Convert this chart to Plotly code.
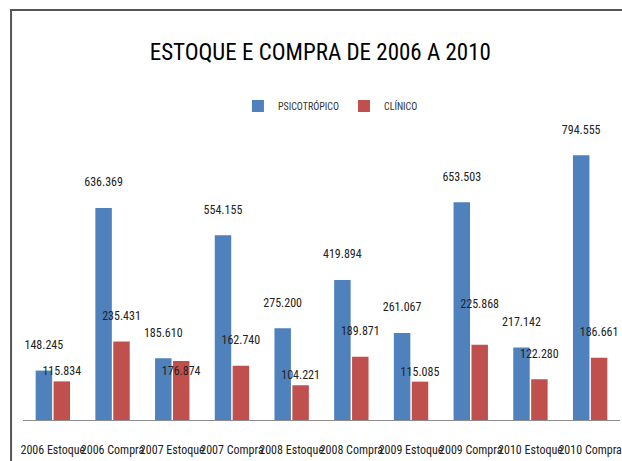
import plotly.graph_objects as go

categories = ["2006 Estoque", "2006 Compra", "2007 Estoque", "2007 Compra",
              "2008 Estoque", "2008 Compra", "2009 Estoque", "2009 Compra",
              "2010 Estoque", "2010 Compra"]
psicotropico = [148.245, 636.369, 185.610, 554.155, 275.200,
                419.894, 261.067, 653.503, 217.142, 794.555]
clinico = [115.834, 235.431, 176.874, 162.740, 104.221,
           189.871, 115.085, 225.868, 122.280, 186.661]

NARROW = "Liberation Sans Narrow, Arial Narrow, Roboto Condensed, Liberation Sans, sans-serif"

# label placement tweaks (blank lines under the label lift it above the bar)
psi_lift = [1] * 10
cli_lift = [0, 1, 0, 1, 0, 1, 0, 2, 1, 1]
cli_pos = ["outside"] * 10
cli_pos[2] = "inside"


def labels(vals, lifts):
    return [f"{v:.3f}" + "<br>\u00a0" * n for v, n in zip(vals, lifts)]


fig = go.Figure()
fig.add_trace(go.Bar(
    x=categories, y=psicotropico, name="PSICOTRÓPICO",
    marker=dict(color="#4F81BD", line=dict(width=0)),
    text=labels(psicotropico, psi_lift), textposition="outside", cliponaxis=False,
    constraintext="none", textangle=0,
    textfont=dict(family=NARROW, size=12, color="#222222"),
))
fig.add_trace(go.Bar(
    x=categories, y=clinico, name="CLÍNICO",
    marker=dict(color="#C0504D", line=dict(width=0)),
    text=labels(clinico, cli_lift), textposition=cli_pos, cliponaxis=False,
    constraintext="none", textangle=0, insidetextanchor="end",
    textfont=dict(family=NARROW, size=12, color="#222222"),
    insidetextfont=dict(family=NARROW, size=12, color="#222222"),
    outsidetextfont=dict(family=NARROW, size=12, color="#222222"),
))

fig.update_layout(
    width=622, height=461,
    margin=dict(l=23, r=0, t=120, b=41),
    paper_bgcolor="white", plot_bgcolor="white",
    barmode="group", bargap=0.4, bargroupgap=0.08,
    title=dict(text="ESTOQUE E COMPRA DE 2006 A 2010",
               x=0.515, xanchor="center", y=0.887, yanchor="middle",
               font=dict(family=NARROW, size=23, color="#000000")),
    legend=dict(orientation="h", x=0.515, xanchor="center", y=1.047, yanchor="middle",
                font=dict(family=NARROW, size=10, color="#333333"),
                itemwidth=30, bgcolor="rgba(0,0,0,0)"),
    showlegend=True,
    xaxis=dict(showline=True, linecolor="#8c8c8c", linewidth=1,
               tickangle=0, ticks="", ticklabelstandoff=19,
               tickfont=dict(family=NARROW, size=12, color="#222222"),
               range=[-0.5, 9.5], showgrid=False, fixedrange=True),
    yaxis=dict(range=[0, 900], visible=False, showgrid=False, fixedrange=True),
    shapes=[dict(type="rect", xref="paper", yref="paper",
                 x0=-0.02, x1=1.05, y0=-0.25, y1=1.3667,
                 line=dict(color="#555555", width=2), layer="above")],
)

fig.write_html("out.html")
